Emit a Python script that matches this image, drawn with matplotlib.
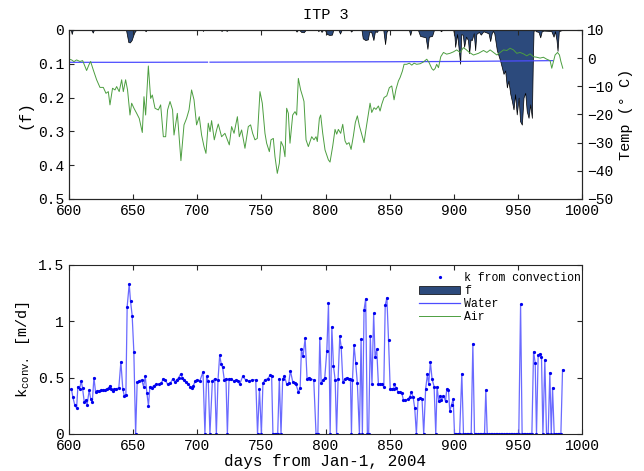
import numpy as np
import matplotlib
matplotlib.use('Agg')
import matplotlib.pyplot as plt

plt.rcParams['font.family'] = ['Liberation Mono', 'DejaVu Sans']
plt.rcParams['mathtext.fontset'] = 'custom'
plt.rcParams['mathtext.rm'] = 'Liberation Mono'
plt.rcParams['mathtext.it'] = 'Liberation Mono'

# ---- top panel: ice fraction f (left, inverted) ----
f_days = [600, 601.5, 602.2, 603, 617.5, 618.6, 619.5, 644.5, 645.5, 646.3, 647.5, 648.9,
          650.5, 651.5, 652.5, 659, 659.8, 660.5, 704, 704.5, 705, 718, 719, 720, 722, 723,
          724, 776.5, 777.4, 778.5, 779.5, 781, 783, 784.5, 794, 794.4, 795, 796, 796.9,
          798, 799.5, 801, 803, 805, 806, 810, 811.3, 812.5, 819, 820, 821, 828, 829, 831,
          833, 834, 835.5, 837.3, 838.5, 840, 841, 845, 846.4, 847.5, 848.5, 865, 866, 867,
          872, 873.7, 876, 878, 879.4, 880.5, 883, 884.5, 889, 890, 891, 899.5, 900.5, 901,
          902.5, 903.6, 904.9, 905.8, 907, 908, 909.5, 911, 911.9, 913, 914, 915.5, 916.6,
          917.5, 919.5, 921, 923, 925.7, 927, 928.3, 929.5, 930.5, 931.5, 933.5, 936, 938.7,
          940, 941.3, 942.5, 944, 945.2, 946.5, 947.7, 949, 950.5, 951.6, 953, 954.3, 955.6,
          956.8, 958.2, 959.5, 960.8, 961.5, 962.1, 963, 964, 966, 967.3, 968.5, 970, 975,
          976, 977.7, 978.8, 980, 980.8, 981.8, 983, 984.7]
f_vals = [0, 0, 0.012, 0, 0, 0.008, 0, 0, 0.02, 0.036, 0.037, 0.03,
          0.012, 0.004, 0, 0, 0.004, 0, 0, 0.003, 0, 0, 0.003, 0, 0, 0.003,
          0, 0, 0.005, 0, 0, 0.006, 0.007, 0, 0, 0.004, 0, 0, 0.006,
          0, 0, 0.012, 0.015, 0.014, 0, 0, 0.011, 0, 0, 0.005, 0, 0, 0.025, 0.03,
          0.028, 0.006, 0.005, 0.03, 0.004, 0.006, 0, 0, 0.042, 0.006, 0, 0, 0.015, 0,
          0, 0.018, 0.02, 0.022, 0.056, 0.02, 0.018, 0, 0, 0.004, 0, 0, 0.02, 0.05,
          0.012, 0.05, 0.10, 0.012, 0.015, 0.05, 0.02, 0.03, 0.069, 0.028, 0.03, 0.01, 0.06,
          0.012, 0.006, 0.014, 0.004, 0.008, 0.01, 0.033, 0.01, 0.003, 0.01, 0.06, 0.09, 0.13,
          0.12, 0.17, 0.15, 0.19, 0.21, 0.235, 0.19, 0.25, 0.2, 0.27, 0.28, 0.2, 0.186,
          0.24, 0.26, 0.22, 0.26, 0.1, 0.003, 0, 0.004, 0.006, 0.022, 0.004, 0.002, 0.003,
          0.004, 0.02, 0.004, 0.03, 0.062, 0.004, 0.002, 0]

# ---- top panel: temperatures (right axis) ----
water_days = [601, 650, 708, 709, 710, 800, 850, 900, 940, 977]
water_temp = [-1.5, -1.5, -1.45, np.nan, -1.45, -1.35, -1.3, -1.2, -1.05, -0.9]

air_days = [601, 602.1, 603.9, 606, 608.6, 610.7, 613.8, 615.6, 616.9, 619, 621.6, 624.2,
            626.8, 628.9, 630.7, 632, 634, 635.9, 637.2, 639.2, 641.1, 642.4, 644.2, 645.7,
            647.6, 648.9, 650.7, 652.8, 654.8, 657.2, 658.5, 659.8, 661.9, 663.7, 665, 667.1,
            669.7, 671.5, 673.6, 675.4, 676.9, 678.8, 680.8, 681.9, 684.5, 687.3, 689.7, 691.7,
            693.6, 695.6, 697.5, 699.5, 701.6, 703.4, 705.3, 706.8, 708.6, 710, 711.2, 713.3,
            715.1, 716.4, 719, 721.6, 725, 726.8, 728.7, 731.3, 732.8, 734.6, 737.2, 739.8,
            741.6, 743.2, 745, 746.8, 748.9, 750.7, 752.8, 754.1, 756.2, 757.5, 759.3, 760.6,
            762.4, 764, 765.3, 767.1, 768.4, 769.7, 771, 772.3, 774.4, 776.2, 777.5, 778.8,
            780.6, 782.2, 783.2, 784.8, 786.6, 789.2, 791, 792.6, 793.6, 795.2, 796.2, 797.8,
            799.6, 802.2, 803.5, 805.6, 807.4, 808.7, 810, 811.8, 813.4, 815.2, 816.5, 818.3,
            819.9, 821.7, 823.2, 824.8, 826.4, 828.2, 830, 831.5, 833.4, 834.7, 836, 837.8,
            839.3, 841.2, 842.5, 843.8, 845.6, 847.7, 849.7, 851.6, 853.4, 854.9, 856.8, 858.1,
            859.9, 861.2, 863.3, 865.3, 867.2, 869, 871, 873.7, 876.2, 878.9, 880.7, 882.8,
            884.1, 885.4, 886.6, 888, 889.8, 891.9, 894.4, 897, 899.6, 902.2, 904.9, 907.4,
            909.3, 912.1, 915.3, 919.2, 923.1, 925.7, 928.3, 930.9, 933.5, 936.1, 938.7, 941.3,
            943.8, 946.5, 949, 951.6, 954.3, 956.8, 959.4, 962, 964.6, 967.2, 969.8, 972.4,
            975, 976.3, 977.6, 978.9, 980.8, 982.3, 983.4, 984.9]
air_temp = [-0.5, -0.65, -1.24, -0.65, -1.2, -0.9, -4.4, -2.4, -1.2, -4.2, -7.7, -10.4,
            -10.4, -12.5, -11.9, -16.6, -10.7, -11.3, -10.1, -11.9, -7.7, -11.9, -7.7, -11.3,
            -20.2, -16, -17.8, -19.6, -21.4, -26.4, -13.7, -20.2, -2.8, -14.3, -13.1, -17.8,
            -18.4, -16.6, -27.9, -27.9, -18.4, -15.4, -18.4, -27.3, -19.6, -36.4, -23.7, -21.4,
            -18.4, -11.3, -14.8, -23.7, -20.8, -27.3, -31.4, -33.8, -23.1, -26.1, -22.2, -29,
            -25.5, -23.4, -27.9, -26.7, -30.8, -24.3, -26.7, -20.8, -27.9, -25.5, -32, -24.3,
            -23.7, -26.7, -29, -28.5, -11.9, -16, -26.7, -30.2, -33.2, -29, -28.5, -35,
            -40.9, -37.3, -29.6, -31.4, -35, -17.8, -19.6, -30.2, -20.2, -19, -20.2, -7.2,
            -11.3, -13.7, -15.4, -29, -31.4, -27.9, -29, -27.9, -29.6, -21.4, -20.2, -26.7,
            -32.6, -36.1, -36.9, -31.2, -25.3, -27, -25.3, -26.7, -23.5, -29.4, -30.6, -30,
            -32.4, -27.6, -22.9, -20.5, -24.1, -27, -30, -25.3, -19.9, -16, -19.3, -17.6,
            -18.2, -17, -18.8, -16.4, -14, -13.4, -10.5, -9.9, -14.8, -11.1, -8.1, -6.9,
            -4.6, -2.2, -2.2, -1.8, -2.5, -1.8, -2.2, -2, -1.4, -0.4, -1.6, -3.7,
            -4.3, -3.7, -2.2, -3.4, 0.5, 2, 1.4, 1.7, 2.2, 2.9, 2, 3.7,
            3.1, 2, 1.1, 1.7, 2.7, 2, 2.9, 2, 1.1, 2, 2.9, 2.7,
            3.5, 2.9, 1.7, 2, 1.5, 0.8, 1.5, 0.5, 0.3, 0, 0.3, -0.4,
            -0.9, -3.6, -1.2, 1.1, 2, 1.1, -1.2, -3.6]

# ---- bottom panel: k from convection ----
k_days = [602, 603, 604.5, 606, 607, 608.3, 609.6, 610.6, 612, 613.2, 614.2, 615.8, 617,
          618.2, 619.5, 620.8, 622, 623.5, 625, 626.5, 628, 629.5, 631, 632, 633, 634, 635.5,
          637, 638.9, 640.5, 642, 643.1, 644.4, 645.4, 647, 648, 649.3, 650.6, 652, 653.2,
          654.5, 656.6, 658.2, 659.5, 660.8, 662, 663.1, 664.4, 666.2, 668, 670, 672, 673.5,
          675, 677, 679, 681, 682.5, 684, 685.5, 687, 688.5, 690, 691.5, 693, 694.5, 695.6,
          697, 698.5, 699.5,
          702, 704.5, 706, 707.3, 708.6, 709.9, 711.8, 713.6, 714.9, 716.2, 717.5, 718.7,
          719.8, 721.1, 722.4, 723.5, 724.8, 726.5, 728.5, 730.5, 732, 733, 735.4, 737.8,
          740.4, 743, 745.6, 747, 748.5, 750, 751.2, 752.7, 754.8, 756.9, 758, 759, 760.3,
          761.5, 762.7, 764, 765.3, 766.6, 768, 769.8, 771.3, 772.6, 774.5, 776, 777, 778.9,
          780.2, 781.2, 782.5, 784.1, 785.6, 787, 788.2, 790.8, 792.6, 794, 795.5, 796.6, 798,
          799.4,
          801, 802.3, 803.6, 804.9, 806.2, 807.5, 808.6, 809.8, 811.1, 812.2, 813.5, 815,
          816.5, 818, 819.4, 820.2, 821, 822.2, 823.5, 824.8, 826.4, 827.7, 828.7, 830, 831.3,
          832.6, 833.6, 834.9, 836.2, 837.5, 838.6, 839.9, 841.2, 842.7, 844, 845.4, 846.5,
          847.8, 849.1, 850.4, 852, 853, 853.7, 855, 856.5, 858, 859.5, 860.7, 862.3, 864.3,
          865.6, 866.9, 868.2, 869.5, 870.8, 872.1, 873.6, 875.2, 876.5, 878, 879.4, 880.4,
          881.7, 883, 884.6, 885.9, 886.9, 888.2, 889.3, 890.3, 891.9, 893.5, 894.5, 895.8,
          896.8, 898.2, 899.5,
          900.5, 901.8, 903, 904.5, 906.2, 907.5, 908.8, 910, 911.3, 912.5, 913.5, 914.8,
          916.1, 917.4, 918.7, 920, 921.3, 922.6, 923.9, 924.9, 926, 927.3, 928.6, 929.9,
          931.2, 932.5, 933.8, 935.1, 936.4, 937.7, 939, 940.3, 941.6, 942.9, 944.2, 945.5,
          946.8, 948.1, 949.4, 950.6, 952, 953.2, 954.5, 955.8, 957.1, 958.4, 959.6, 960.8,
          962.1, 963.4, 964.4, 965.7, 967, 968.3, 969.4, 970.9, 972.2, 973.5, 974.8, 975.9,
          976.9, 978.2, 979.5, 980.8, 982.1, 983.4, 984.7]
k_vals = [0.40, 0.33, 0.26, 0.23, 0.42, 0.40, 0.47, 0.41, 0.28, 0.30, 0.26, 0.39, 0.31,
          0.28, 0.50, 0.37, 0.38, 0.38, 0.39, 0.39, 0.39, 0.40, 0.41, 0.43, 0.40, 0.38, 0.40,
          0.40, 0.41, 0.64, 0.40, 0.34, 0.35, 1.13, 1.33, 1.18, 1.05, 0.73, 0.0, 0.46,
          0.47, 0.48, 0.42, 0.51, 0.36, 0.25, 0.42, 0.41, 0.43, 0.44, 0.44, 0.45, 0.49,
          0.48, 0.44, 0.45, 0.49, 0.46, 0.48, 0.50, 0.53, 0.50, 0.48, 0.46, 0.44, 0.42, 0.41,
          0.43, 0.47, 0.48,
          0.47, 0.55, 0.0, 0.51, 0.47, 0.0, 0.47, 0.49, 0.0, 0.48, 0.70, 0.62,
          0.59, 0.48, 0.49, 0.0, 0.49, 0.49, 0.47, 0.48, 0.47, 0.44, 0.51, 0.48,
          0.47, 0.48, 0.48, 0.0, 0.40, 0.0, 0.45, 0.48, 0.49, 0.52, 0.51, 0.0, 0.0,
          0.0, 0.0, 0.49, 0.0, 0.49, 0.51, 0.44, 0.45, 0.56, 0.46, 0.45, 0.44, 0.37,
          0.41, 0.75, 0.69, 0.85, 0.49, 0.50, 0.49, 0.48, 0.0, 0.0, 0.85, 0.45, 0.48,
          0.50,
          0.74, 1.16, 0.0, 0.95, 0.60, 0.48, 0.0, 0.49, 0.87, 0.77, 0.46, 0.49,
          0.50, 0.49, 0.49, 0.0, 0.48, 0.79, 0.63, 0.45, 0.0, 0.84, 0.0, 1.10, 1.20,
          0.0, 0.0, 0.87, 0.44, 1.07, 0.68, 0.75, 0.44, 0.44, 0.44, 0.42, 1.14,
          1.21, 0.83, 0.40, 0.40, 0.40, 0.44, 0.41, 0.37, 0.37, 0.36, 0.30, 0.30, 0.31,
          0.33, 0.37, 0.33, 0.23, 0.0, 0.31, 0.32, 0.31, 0.0, 0.40, 0.53, 0.44,
          0.64, 0.49, 0.42, 0.0, 0.42, 0.29, 0.34, 0.30, 0.34, 0.29, 0.40, 0.39,
          0.20, 0.26, 0.31,
          0.0, 0.0, 0.0, 0.0, 0.535, 0.0, 0.0, 0.0, 0.0, 0.0, 0.0, 0.80,
          0.0, 0.0, 0.0, 0.0, 0.0, 0.0, 0.0, 0.39, 0.0, 0.0, 0.0, 0.0,
          0.0, 0.0, 0.0, 0.0, 0.0, 0.0, 0.0, 0.0, 0.0, 0.0, 0.0, 0.0,
          0.0, 0.0, 0.0, 0.0, 1.15, 0.0, 0.0, 0.0, 0.0, 0.0, 0.0, 0.0,
          0.73, 0.63, 0.0, 0.70, 0.71, 0.68, 0.0, 0.66, 0.0, 0.0, 0.545, 0.0,
          0.41, 0.0, 0.0, 0.0, 0.0, 0.0, 0.57]

xticks = [600, 650, 700, 750, 800, 850, 900, 950, 1000]
f_ticks = [0, 0.1, 0.2, 0.3, 0.4, 0.5]
f_ticklabels = ['0', '0.1', '0.2', '0.3', '0.4', '0.5']
t_ticks = [-50, -40, -30, -20, -10, 0, 10]
k_ticks = [0, 0.5, 1, 1.5]
k_ticklabels = ['0', '0.5', '1', '1.5']

navy = '#2c4a7c'
blue = '#4d4dff'
green = '#4c9e40'
spine = '#262626'
tick_fs = 10.5

fig = plt.figure(figsize=(6.44, 4.71), dpi=100)

# top
ax1 = fig.add_axes([0.107, 0.5775, 0.797, 0.359])
ax2 = ax1.twinx()
fpoly = ax1.fill_between(f_days, 0, f_vals, facecolor=navy, edgecolor='black', linewidth=0.5)
ax1.set_xlim(600, 1000)
ax1.set_ylim(0.5, 0)
ax1.set_xticks(xticks)
ax1.set_yticks(f_ticks)
ax1.set_yticklabels(f_ticklabels)
ax1.set_ylabel('(f)', fontsize=11.5)
ax1.set_title('ITP 3', fontsize=11, pad=8)
ax1.tick_params(direction='in', length=3.5, labelsize=tick_fs, top=True, colors=spine)

wline, = ax2.plot(water_days, water_temp, color=blue, linewidth=0.9)
aline, = ax2.plot(air_days, air_temp, color=green, linewidth=0.7)
ax2.set_ylim(-50, 10)
ax2.set_yticks(t_ticks)
ax2.set_ylabel('Temp (° C)', fontsize=11)
ax2.tick_params(direction='in', length=3.5, labelsize=tick_fs, colors=spine)

# bottom
ax3 = fig.add_axes([0.107, 0.0786, 0.797, 0.359])
ax3.plot(k_days, k_vals, color='#6a6aff', linewidth=0.9)
kdots, = ax3.plot(k_days, k_vals, linestyle='none', marker='.', markersize=2.6, color='#0000ee')
ax3.set_xlim(600, 1000)
ax3.set_ylim(0, 1.5)
ax3.set_xticks(xticks)
ax3.set_yticks(k_ticks)
ax3.set_yticklabels(k_ticklabels)
ax3.set_xlabel('days from Jan-1, 2004', fontsize=11.5, labelpad=1)
ax3.set_ylabel(r'k$_{\rm conv.}$ [m/d]', fontsize=11)
ax3.tick_params(direction='in', length=3.5, labelsize=tick_fs, top=True, right=True, colors=spine)

for ax in (ax1, ax2, ax3):
    for s in ax.spines.values():
        s.set_color(spine)
        s.set_linewidth(0.8)
    for lab in ax.get_xticklabels() + ax.get_yticklabels():
        lab.set_color('black')

ax3.legend([kdots, fpoly, wline, aline], ['k from convection', 'f', 'Water', 'Air'],
           loc='upper left', bbox_to_anchor=(0.673, 0.985), frameon=False, fontsize=8.3,
           numpoints=1, handlelength=3.6, handletextpad=0.35, labelspacing=0.1,
           borderpad=0.4, borderaxespad=0)

fig.savefig('out.png', dpi=100)
